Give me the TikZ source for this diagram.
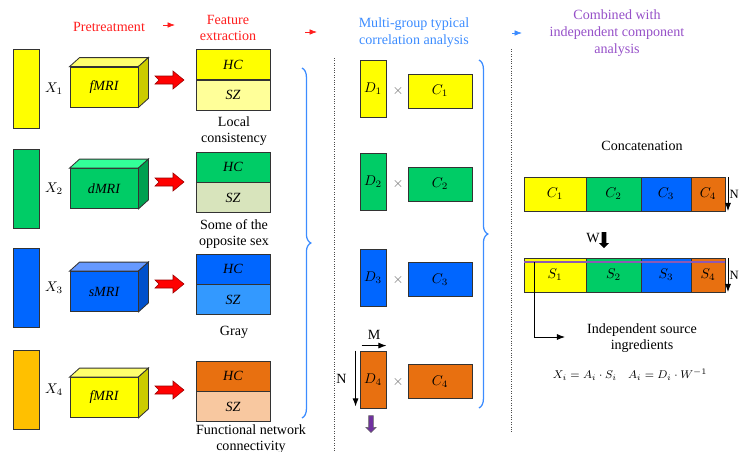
\documentclass[tikz,border=0pt]{standalone}
\usepackage{fontspec}
\setmainfont{Liberation Serif}
\usetikzlibrary{arrows.meta,calc,positioning,shapes.arrows,decorations.pathreplacing}

\definecolor{cyel}{RGB}{255,255,0}
\definecolor{cyellt}{RGB}{255,255,153}
\definecolor{cyeltop}{RGB}{255,255,110}
\definecolor{cyelside}{RGB}{204,204,0}
\definecolor{cgrn}{RGB}{0,204,102}
\definecolor{cgrnlt}{RGB}{216,228,188}
\definecolor{cgrntop}{RGB}{51,255,153}
\definecolor{cgrnside}{RGB}{0,160,80}
\definecolor{cblu}{RGB}{0,102,255}
\definecolor{cblult}{RGB}{51,153,255}
\definecolor{cblutop}{RGB}{102,153,255}
\definecolor{cbluside}{RGB}{0,80,204}
\definecolor{corg}{RGB}{232,112,16}
\definecolor{corglt}{RGB}{248,200,160}
\definecolor{camb}{RGB}{255,192,0}
\definecolor{tred}{RGB}{255,30,30}
\definecolor{tblue}{RGB}{60,140,255}
\definecolor{tpurp}{RGB}{150,80,200}
\definecolor{dpurp}{RGB}{112,48,160}

\begin{document}
\begin{tikzpicture}[
  x=0.25mm,y=-0.25mm,
  >=Latex,
  box/.style={draw=black!80,line width=0.6pt,inner sep=0pt},
  xbar/.style={box,minimum width=6.5mm,minimum height=19.75mm},
  cube/.style={box,minimum width=17mm,minimum height=10mm,font=\itshape},
  half/.style={box,minimum width=18.5mm,minimum height=7.5mm,font=\itshape},
  dbar/.style={box,minimum width=6.5mm,minimum height=14.25mm},
  cbar/.style={box,minimum width=16mm,minimum height=8.5mm},
  seg/.style={box,minimum height=8.5mm,outer sep=0pt},
  title/.style={align=center,font=\fontsize{10}{12}\selectfont},
  caption/.style={align=center,font=\fontsize{10}{11.5}\selectfont},
  sep/.style={densely dotted,black!70,line width=0.7pt},
  bracket/.style={decorate,decoration={brace,amplitude=2.2mm},tblue,line width=0.9pt},
  fat/.style={single arrow,rotate=-90,inner sep=0.5mm,single arrow head extend=0.7mm,
    single arrow head indent=0pt,minimum height=4.2mm},
  flow/.style={->,line width=0.6pt}
]
  \useasboundingbox (0,0) rectangle (742,452);

  % stage titles
  \node[title,text=tred] (pre) at (109,27) {Pretreatment};
  \node[title,text=tred] (fea) at (228,28) {Feature\\extraction};
  \node[title,text=tblue] (mcca) at (414,32.5) {Multi-group typical\\correlation analysis};
  \node[title,text=tpurp] (ica) at (617,33.5) {Combined with\\independent component\\analysis};
  \draw[->,tred,line width=0.5pt] (163,25) -- (175,25);
  \draw[->,tred,line width=0.5pt] (305,32) -- (317,32);
  \draw[->,tblue,line width=0.5pt] (512,33) -- (522,33);

  % separators
  \draw[sep] (334,58) -- (334,452);
  \draw[sep] (511,49) -- (511,433);

  % modalities
  \foreach \n/\y/\fc in {1/88.5/cyel,2/188.5/cgrn,3/288/cblu,4/389.5/camb}{
    \node[xbar,fill=\fc] (x\n) at (26,\y) {};
    \node (xl\n) at (54,\y) {$X_\n$};
  }

  \foreach \n/\y/\lbl/\fc/\tc/\sc in {1/87/fMRI/cyel/cyeltop/cyelside,
      2/188.5/dMRI/cgrn/cgrntop/cgrnside,
      3/291.5/sMRI/cblu/cblutop/cbluside,
      4/397.5/fMRI/cyel/cyeltop/cyelside}{
    \node[cube,fill=\fc] (cb\n) at (104,\y) {\lbl};
    \draw[box,fill=\tc] (cb\n.north west) -- ++(10,-9) -- ($(cb\n.north east)+(10,-9)$)
      -- (cb\n.north east) -- cycle;
    \draw[box,fill=\sc] (cb\n.north east) -- ++(10,-9) -- ($(cb\n.south east)+(10,-9)$)
      -- (cb\n.south east) -- cycle;
  }

  % red block arrows
  \foreach \y in {80,182,284,390}
    \fill[red,draw=red!60!black,line width=0.4pt] (155,\y-4) -- (173,\y-4) -- (173,\y-9)
      -- (184,\y) -- (173,\y+9) -- (173,\y+4) -- (155,\y+4) -- (159,\y) -- cycle;

  % HC / SZ features
  \foreach \n/\y/\hc/\sz in {1/64.5/cyel/cyellt,2/167/cgrn/cgrnlt,3/269/cblu/cblult,4/376/corg/corglt}{
    \node[half,fill=\hc] (hc\n) at (233,\y) {HC};
    \node[half,fill=\sz,below=0pt of hc\n] (sz\n) {SZ};
  }
  \node[caption] (cap1) at (234,131) {Local\\consistency};
  \node[caption] (cap2) at (234,234) {Some of the\\opposite sex};
  \node[caption] (cap3) at (234,332) {Gray};
  \node[caption] (cap4) at (251,439) {Functional network\\connectivity};

  \draw[bracket] (302,68) -- (302,418);

  % MCCA
  \foreach \n/\y/\yc/\fc in {1/89/91/cyel,2/181.5/184/cgrn,3/277.5/279.5/cblu,4/379.5/381.5/corg}{
    \node[dbar,fill=\fc] (d\n) at (373,\y) {$D_\n$};
    \node[text=black!60] (t\n) at (398,\yc) {$\times$};
    \node[cbar,fill=\fc] (c\n) at (440,\yc) {$C_\n$};
  }
  \draw[flow] ([shift={(2,-5)}]d4.north west) -- node[above=0.3mm] {M} ([shift={(0,-5)}]d4.north east);
  \draw[flow] ([shift={(-4,0)}]d4.north west) -- node[left=1mm] {N} ([shift={(-4,-2)}]d4.south west);
  \node[fat,fill=dpurp,draw=black!60,line width=0.4pt] (dn) at (371,423) {};

  \draw[bracket] (479,60) -- (479,408);

  % concatenation and ICA
  \node (cat) at (642,146) {Concatenation};
  \node[seg,fill=cyel,minimum width=15.5mm,anchor=west] (cc1) at (524,194) {$C_1$};
  \node[seg,fill=cgrn,minimum width=13.75mm,right=0pt of cc1] (cc2) {$C_2$};
  \node[seg,fill=cblu,minimum width=12.5mm,right=0pt of cc2] (cc3) {$C_3$};
  \node[seg,fill=corg,minimum width=8.5mm,right=0pt of cc3] (cc4) {$C_4$};
  \draw[flow] ([shift={(3,0)}]cc4.north east) -- node[right,inner sep=0.8pt,font=\small] {N} ([shift={(3,0)}]cc4.south east);

  \node (w) at (593,238) {W};
  \node[fat,fill=black,minimum height=4mm] (wa) at (604,239) {};

  \node[seg,fill=cyel,minimum width=15.5mm,anchor=west] (ss1) at (524,275) {$S_1$};
  \node[seg,fill=cgrn,minimum width=13.75mm,right=0pt of ss1] (ss2) {$S_2$};
  \node[seg,fill=cblu,minimum width=12.5mm,right=0pt of ss2] (ss3) {$S_3$};
  \node[seg,fill=corg,minimum width=8.5mm,right=0pt of ss3] (ss4) {$S_4$};
  \draw[dpurp!80,line width=0.8pt] ([shift={(0,4)}]ss1.north west) -- ([shift={(0,4)}]ss4.north east);
  \draw[flow] ([shift={(3,0)}]ss4.north east) -- node[right,inner sep=0.8pt,font=\small] {N} ([shift={(3,0)}]ss4.south east);

  \coordinate (src) at (565,337);
  \draw[flow] ([shift={(10,4)}]ss1.north west) |- (src);
  \node[caption] (ind) at (642,338) {Independent source\\ingredients};
  \node[font=\fontsize{8}{10}\selectfont] (eq) at (630,375) {$X_i = A_i\cdot S_i \quad A_i = D_i\cdot W^{-1}$};
\end{tikzpicture}
\end{document}
